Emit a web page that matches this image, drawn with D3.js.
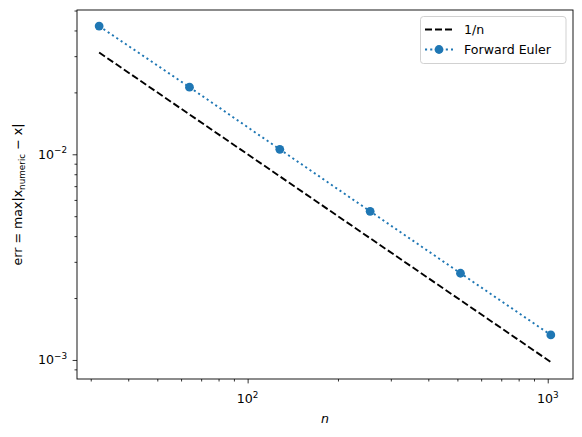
<!DOCTYPE html>
<html>
<head>
<meta charset="utf-8">
<script src="https://cdn.jsdelivr.net/npm/d3@7"></script>
<style>
  body { margin: 0; background: white; }
  svg { display: block; font-family: 'DejaVu Sans', sans-serif; }
</style>
</head>
<body>
<svg></svg>
<script>
// data
const nValues = [32, 64, 128, 256, 512, 1024];
const refValues = [0.03125, 0.015625, 0.0078125, 0.00390625, 0.001953125, 0.0009765625];
const eulerValues = [0.0420, 0.0212, 0.01057, 0.00528, 0.00264, 0.001323];

const xMajorTicks = [100, 1000];
const xMajorLabels = [['10', '2'], ['10', '3']];
const xMinorTicks = [30, 40, 50, 60, 70, 80, 90, 200, 300, 400, 500, 600, 700, 800, 900];
const yMajorTicks = [0.001, 0.01];
const yMajorLabels = [['10', '\u22123'], ['10', '\u22122']];
const yMinorTicks = [0.0009, 0.002, 0.003, 0.004, 0.005, 0.006, 0.007, 0.008, 0.009, 0.02, 0.03, 0.04, 0.05];

const legendLabels = ['1/n', 'Forward Euler'];

const width = 582;
const height = 437;
const plotLeft = 77, plotRight = 573, plotTop = 10, plotBottom = 379;
const fontSize = 12.6;
const blue = '#1f77b4';
const markerR = 4.4;

let svg = d3.select('svg')
    .attr('width', width)
    .attr('height', height)

let xScale = d3.scaleLog()
    .domain([27.0, 1214])
    .range([plotLeft, plotRight])

let yScale = d3.scaleLog()
    .domain([0.000808, 0.0503])
    .range([plotBottom, plotTop])

// axes (labels added by hand so the exponents can be superscripts)
let xAxis = d3.axisBottom(xScale).tickValues(xMajorTicks).tickFormat('').tickSize(4.4).tickSizeOuter(0);
let xMinor = d3.axisBottom(xScale).tickValues(xMinorTicks).tickFormat('').tickSize(2.5).tickSizeOuter(0);
let yAxis = d3.axisLeft(yScale).tickValues(yMajorTicks).tickFormat('').tickSize(4.4).tickSizeOuter(0);
let yMinor = d3.axisLeft(yScale).tickValues(yMinorTicks).tickFormat('').tickSize(2.5).tickSizeOuter(0);

let gx = svg.append('g').attr('transform', 'translate(0,' + plotBottom + ')')
gx.call(xAxis)
gx.append('g').call(xMinor)
let gy = svg.append('g').attr('transform', 'translate(' + plotLeft + ',0)')
gy.call(yAxis)
gy.append('g').call(yMinor)
svg.selectAll('.domain').remove()
svg.selectAll('.tick line').attr('stroke', 'black').attr('stroke-width', 0.8)

xMajorTicks.forEach((t, i) => {
    let txt = svg.append('text')
        .attr('x', xScale(t))
        .attr('y', 403)
        .attr('text-anchor', 'middle')
        .attr('font-size', fontSize)
    txt.append('tspan').text(xMajorLabels[i][0])
    txt.append('tspan').attr('dy', -5.5).attr('font-size', fontSize * 0.7).text(xMajorLabels[i][1])
})

yMajorTicks.forEach((t, i) => {
    let txt = svg.append('text')
        .attr('x', 67)
        .attr('y', yScale(t) + 4.5)
        .attr('text-anchor', 'end')
        .attr('font-size', fontSize)
    txt.append('tspan').text(yMajorLabels[i][0])
    txt.append('tspan').attr('dy', -5.5).attr('font-size', fontSize * 0.7).text(yMajorLabels[i][1])
})

// frame
svg.append('rect')
    .attr('x', plotLeft)
    .attr('y', plotTop)
    .attr('width', plotRight - plotLeft)
    .attr('height', plotBottom - plotTop)
    .attr('fill', 'none')
    .attr('stroke', 'black')
    .attr('stroke-width', 0.9)

// lines
let line = d3.line()
    .x((d, i) => xScale(nValues[i]))
    .y(d => yScale(d))

svg.append('path')
    .attr('d', line(refValues))
    .attr('fill', 'none')
    .attr('stroke', 'black')
    .attr('stroke-width', 1.9)
    .attr('stroke-dasharray', '7,3')

svg.append('path')
    .attr('d', line(eulerValues))
    .attr('fill', 'none')
    .attr('stroke', blue)
    .attr('stroke-width', 1.9)
    .attr('stroke-dasharray', '2.1,3.1')

svg.selectAll('circle.pt')
    .data(eulerValues)
    .enter()
    .append('circle')
    .attr('class', 'pt')
    .attr('cx', (d, i) => xScale(nValues[i]))
    .attr('cy', d => yScale(d))
    .attr('r', markerR)
    .attr('fill', blue)

// axis labels
svg.append('text')
    .attr('x', (plotLeft + plotRight) / 2)
    .attr('y', 423)
    .attr('text-anchor', 'middle')
    .attr('font-size', fontSize)
    .attr('font-style', 'italic')
    .text('n')

let ylab = svg.append('text')
    .attr('transform', 'translate(22,' + ((plotTop + plotBottom) / 2) + ') rotate(-90)')
    .attr('text-anchor', 'middle')
    .attr('font-size', fontSize)
ylab.append('tspan').text('err = max|x')
ylab.append('tspan').attr('dy', 3).attr('font-size', fontSize * 0.7).text('numeric')
ylab.append('tspan').attr('dy', -3).text(' \u2212 x|')

// legend
let legend = svg.append('g')
legend.append('rect')
    .attr('x', 420.5)
    .attr('y', 16.5)
    .attr('width', 145.5)
    .attr('height', 47)
    .attr('rx', 3)
    .attr('fill', 'white')
    .attr('fill-opacity', 0.8)
    .attr('stroke', '#cccccc')
    .attr('stroke-width', 0.9)

let rowY = [29.5, 49.5];
legend.append('line')
    .attr('x1', 425).attr('x2', 453)
    .attr('y1', rowY[0]).attr('y2', rowY[0])
    .attr('stroke', 'black').attr('stroke-width', 1.9)
    .attr('stroke-dasharray', '7,3')
legend.append('line')
    .attr('x1', 425).attr('x2', 453)
    .attr('y1', rowY[1]).attr('y2', rowY[1])
    .attr('stroke', blue).attr('stroke-width', 1.9)
    .attr('stroke-dasharray', '2.1,3.1')
legend.append('circle')
    .attr('cx', 439).attr('cy', rowY[1]).attr('r', markerR).attr('fill', blue)

legendLabels.forEach((lab, i) => {
    legend.append('text')
        .attr('x', 464)
        .attr('y', rowY[i] + 4.5)
        .attr('font-size', fontSize)
        .text(lab)
})
</script>
</body>
</html>
